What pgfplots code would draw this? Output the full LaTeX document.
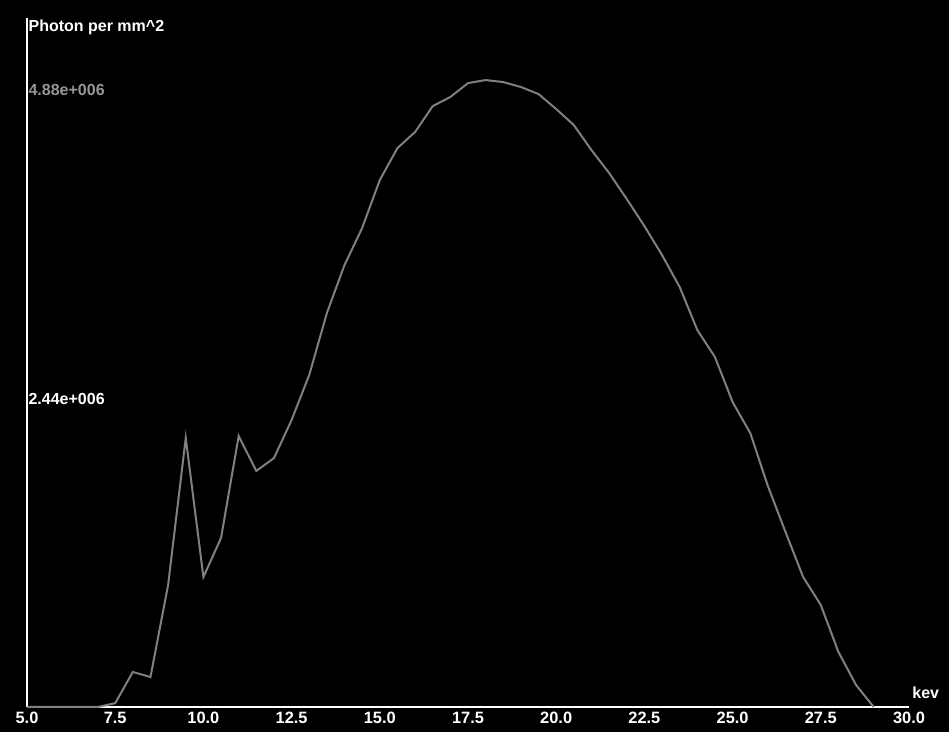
\documentclass[border=0pt]{standalone}
\usepackage{pgfplots}
\pgfplotsset{compat=1.18}
\usepackage{fontspec}
\setmainfont{Liberation Sans}
\definecolor{curve}{RGB}{128,128,128}
\definecolor{dimlab}{RGB}{150,150,150}
\begin{document}
\begin{tikzpicture}
\fill[black] (-13.5pt,-12.5pt) rectangle (461pt,353.5pt);
\begin{axis}[
  at={(0pt,0pt)}, anchor=south west,
  scale only axis,
  width=441pt, height=344.5pt,
  xmin=5, xmax=30, ymin=0, ymax=5.45,
  clip=false,
  axis x line=bottom, axis y line=left,
  axis line style={-, white, line width=1pt},
  major tick length=0pt,
  xtick={5,7.5,10,12.5,15,17.5,20,22.5,25,27.5,30},
  xticklabels={5.0,7.5,10.0,12.5,15.0,17.5,20.0,22.5,25.0,27.5,30.0},
  xticklabel style={font=\bfseries\fontsize{8.2}{9}\selectfont, text=white, inner ysep=2.2pt},
  ytick={2.44,4.88},
  yticklabels={\textcolor{white}{2.44e+006},\textcolor{dimlab}{4.88e+006}},
  yticklabel style={anchor=west, font=\bfseries\fontsize{8}{9}\selectfont, inner xsep=0.6pt},
]
\addplot[curve, line width=1pt] coordinates {
(5.0,0) (5.5,0) (6.0,0) (6.5,0) (7.0,0) (7.5,0.03)
(8.0,0.277) (8.5,0.237) (9.0,0.965) (9.5,2.128) (10.0,1.028)
(10.5,1.337) (11.0,2.143) (11.5,1.867) (12.0,1.969) (12.5,2.270)
(13.0,2.626) (13.5,3.116) (14.0,3.496) (14.5,3.789) (15.0,4.168)
(15.5,4.421) (16.0,4.548) (16.5,4.753) (17.0,4.825) (17.5,4.935)
(18.0,4.959) (18.5,4.943) (19.0,4.904) (19.5,4.848) (20.0,4.730)
(20.5,4.603) (21.0,4.405) (21.5,4.224) (22.0,4.018) (22.5,3.804)
(23.0,3.575) (23.5,3.322) (24.0,2.982) (24.5,2.768) (25.0,2.412)
(25.5,2.167) (26.0,1.748) (26.5,1.384) (27.0,1.028) (27.5,0.807)
(28.0,0.435) (28.5,0.174) (29.0,0)
};
\node[anchor=north west, inner sep=0.6pt, text=white, font=\bfseries\fontsize{8}{9}\selectfont] at (rel axis cs:0,1) {Photon per mm\textasciicircum 2};
\node[anchor=south west, inner sep=0pt, text=white, font=\bfseries\fontsize{8}{9}\selectfont, xshift=1.5pt, yshift=4pt] at (rel axis cs:1,0) {kev};
\end{axis}
\end{tikzpicture}
\end{document}
